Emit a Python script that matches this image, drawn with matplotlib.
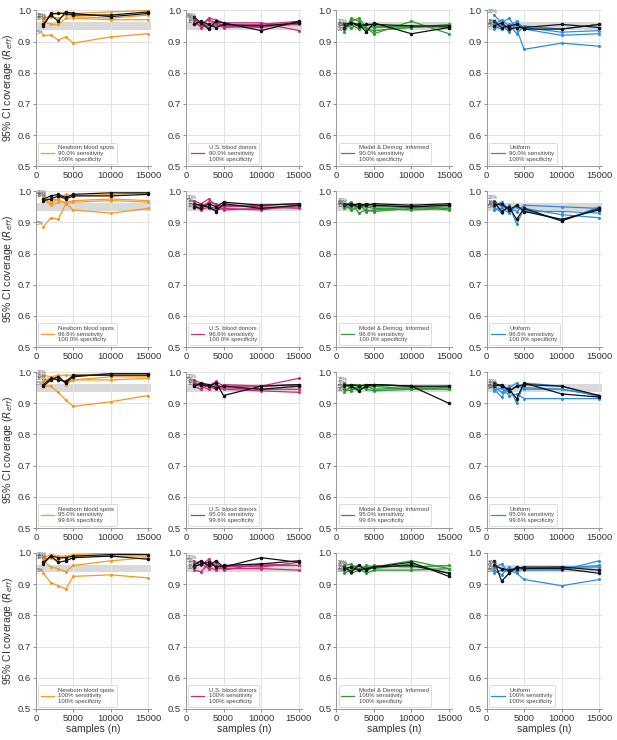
import numpy as np
import matplotlib
matplotlib.use('Agg')
import matplotlib.pyplot as plt

plt.rcParams['font.family'] = ['Liberation Sans', 'DejaVu Sans']

samples = [1000, 2000, 3000, 4000, 5000, 10000, 15000]
prev_labels = ['20%', '15%', '10%', '5%']

priors = ['Newborn blood spots', 'U.S. blood donors', 'Model & Demog. Informed', 'Uniform']
colors = ['#f39a21', '#c4307f', '#2f9a34', '#2f8ce0']
sens_labels = ['90.0% sensitivity', '96.6% sensitivity', '95.0% sensitivity', '100% sensitivity']
spec_labels = ['100% specificity', '100.0% specificity', '99.6% specificity', '100% specificity']

# each panel: 4 coloured series (prevalences above), then 2 black series
# row 1: 90.0% sens / 100% spec
r1_nbs = [[0.970, 0.985, 0.990, 0.995, 0.990, 0.995, 1.000],
          [0.975, 0.980, 0.975, 0.985, 0.980, 0.975, 0.985],
          [0.965, 0.955, 0.955, 0.975, 0.975, 0.970, 0.970],
          [0.920, 0.920, 0.905, 0.915, 0.895, 0.915, 0.925],
          [0.955, 0.985, 0.965, 0.995, 0.990, 0.980, 0.990],
          [0.950, 0.990, 0.990, 0.990, 0.985, 0.985, 0.995]]
r1_usbd = [[0.975, 0.955, 0.970, 0.960, 0.950, 0.955, 0.965],
           [0.960, 0.950, 0.975, 0.970, 0.960, 0.960, 0.935],
           [0.955, 0.965, 0.945, 0.955, 0.945, 0.950, 0.955],
           [0.970, 0.945, 0.955, 0.965, 0.950, 0.945, 0.960],
           [0.980, 0.960, 0.940, 0.965, 0.960, 0.935, 0.965],
           [0.955, 0.965, 0.955, 0.945, 0.955, 0.950, 0.960]]
r1_mdi = [[0.930, 0.975, 0.965, 0.940, 0.935, 0.945, 0.955],
          [0.945, 0.965, 0.975, 0.945, 0.925, 0.965, 0.925],
          [0.955, 0.945, 0.955, 0.940, 0.950, 0.945, 0.950],
          [0.940, 0.955, 0.940, 0.955, 0.945, 0.950, 0.945],
          [0.955, 0.960, 0.955, 0.930, 0.960, 0.925, 0.945],
          [0.945, 0.960, 0.950, 0.955, 0.955, 0.950, 0.950]]
r1_uni = [[0.985, 0.960, 0.975, 0.940, 0.875, 0.895, 0.885],
          [0.955, 0.970, 0.950, 0.965, 0.940, 0.920, 0.925],
          [0.950, 0.940, 0.955, 0.925, 0.950, 0.940, 0.955],
          [0.940, 0.955, 0.930, 0.960, 0.945, 0.930, 0.935],
          [0.965, 0.945, 0.950, 0.955, 0.940, 0.940, 0.955],
          [0.950, 0.960, 0.940, 0.945, 0.945, 0.955, 0.945]]

# row 2: 96.6% sens / 100.0% spec
r2_nbs = [[0.985, 0.970, 0.975, 0.990, 0.985, 0.990, 0.995],
          [0.975, 0.955, 0.965, 0.965, 0.970, 0.975, 0.970],
          [0.980, 0.960, 0.975, 0.960, 0.940, 0.930, 0.945],
          [0.885, 0.915, 0.910, 0.960, 0.965, 0.970, 0.965],
          [0.975, 0.985, 0.990, 0.980, 0.990, 0.995, 0.995],
          [0.970, 0.975, 0.985, 0.975, 0.985, 0.985, 0.990]]
r2_usbd = [[0.970, 0.960, 0.975, 0.955, 0.950, 0.955, 0.960],
           [0.955, 0.940, 0.950, 0.945, 0.955, 0.950, 0.945],
           [0.945, 0.960, 0.945, 0.940, 0.945, 0.940, 0.955],
           [0.960, 0.950, 0.965, 0.960, 0.940, 0.945, 0.950],
           [0.960, 0.955, 0.950, 0.935, 0.960, 0.945, 0.955],
           [0.950, 0.945, 0.960, 0.950, 0.965, 0.955, 0.960]]
r2_mdi = [[0.955, 0.965, 0.930, 0.940, 0.935, 0.945, 0.950],
          [0.945, 0.950, 0.960, 0.935, 0.940, 0.950, 0.955],
          [0.960, 0.940, 0.950, 0.950, 0.945, 0.940, 0.945],
          [0.950, 0.955, 0.945, 0.955, 0.950, 0.950, 0.940],
          [0.960, 0.955, 0.960, 0.955, 0.960, 0.955, 0.960],
          [0.955, 0.960, 0.950, 0.960, 0.955, 0.950, 0.955]]
r2_uni = [[0.970, 0.950, 0.945, 0.935, 0.955, 0.950, 0.945],
          [0.950, 0.930, 0.955, 0.895, 0.945, 0.925, 0.915],
          [0.955, 0.965, 0.940, 0.950, 0.940, 0.905, 0.950],
          [0.940, 0.945, 0.930, 0.955, 0.935, 0.935, 0.930],
          [0.965, 0.935, 0.950, 0.910, 0.945, 0.905, 0.945],
          [0.955, 0.960, 0.940, 0.955, 0.935, 0.910, 0.940]]

# row 3: 95.0% sens / 99.6% spec
r3_nbs = [[0.990, 0.985, 0.990, 0.990, 0.990, 0.995, 0.995],
          [0.975, 0.980, 0.985, 0.965, 0.975, 0.975, 0.980],
          [0.970, 0.975, 0.990, 0.960, 0.975, 0.985, 0.985],
          [0.955, 0.955, 0.935, 0.910, 0.890, 0.905, 0.925],
          [0.955, 0.975, 0.985, 0.965, 0.985, 0.995, 0.995],
          [0.960, 0.980, 0.975, 0.970, 0.990, 0.990, 0.990]]
r3_usbd = [[0.975, 0.965, 0.955, 0.970, 0.955, 0.955, 0.980],
           [0.960, 0.955, 0.945, 0.960, 0.950, 0.945, 0.945],
           [0.955, 0.945, 0.960, 0.950, 0.945, 0.940, 0.935],
           [0.965, 0.960, 0.955, 0.945, 0.960, 0.955, 0.960],
           [0.960, 0.960, 0.955, 0.965, 0.925, 0.955, 0.960],
           [0.955, 0.965, 0.960, 0.950, 0.955, 0.945, 0.955]]
r3_mdi = [[0.955, 0.960, 0.960, 0.955, 0.960, 0.955, 0.950],
          [0.965, 0.945, 0.950, 0.950, 0.955, 0.945, 0.950],
          [0.935, 0.955, 0.945, 0.955, 0.945, 0.950, 0.955],
          [0.945, 0.940, 0.955, 0.945, 0.940, 0.945, 0.945],
          [0.960, 0.955, 0.940, 0.955, 0.960, 0.955, 0.900],
          [0.955, 0.960, 0.955, 0.960, 0.960, 0.955, 0.955]]
r3_uni = [[0.955, 0.935, 0.950, 0.965, 0.945, 0.945, 0.925],
          [0.945, 0.920, 0.955, 0.900, 0.965, 0.955, 0.920],
          [0.960, 0.955, 0.935, 0.955, 0.950, 0.945, 0.925],
          [0.940, 0.950, 0.925, 0.930, 0.915, 0.915, 0.915],
          [0.965, 0.955, 0.945, 0.915, 0.965, 0.930, 0.920],
          [0.955, 0.960, 0.940, 0.955, 0.960, 0.955, 0.925]]

# row 4: 100% sens / 100% spec
r4_nbs = [[0.985, 0.995, 0.990, 0.990, 0.995, 1.000, 0.995],
          [0.980, 0.985, 0.975, 0.990, 0.990, 0.990, 0.990],
          [0.975, 0.955, 0.950, 0.940, 0.960, 0.975, 0.985],
          [0.935, 0.905, 0.895, 0.885, 0.925, 0.930, 0.920],
          [0.970, 0.990, 0.985, 0.985, 0.990, 0.995, 0.995],
          [0.965, 0.990, 0.970, 0.975, 0.985, 0.990, 0.980]]
r4_usbd = [[0.975, 0.960, 0.980, 0.955, 0.960, 0.955, 0.970],
           [0.955, 0.965, 0.950, 0.970, 0.945, 0.965, 0.960],
           [0.945, 0.940, 0.965, 0.960, 0.950, 0.950, 0.945],
           [0.965, 0.975, 0.955, 0.945, 0.955, 0.960, 0.960],
           [0.960, 0.975, 0.960, 0.975, 0.955, 0.985, 0.970],
           [0.955, 0.965, 0.970, 0.955, 0.960, 0.965, 0.975]]
r4_mdi = [[0.960, 0.965, 0.945, 0.960, 0.955, 0.975, 0.950],
          [0.945, 0.955, 0.960, 0.945, 0.960, 0.955, 0.960],
          [0.955, 0.935, 0.945, 0.955, 0.950, 0.965, 0.935],
          [0.935, 0.945, 0.950, 0.935, 0.945, 0.945, 0.950],
          [0.955, 0.940, 0.960, 0.945, 0.955, 0.970, 0.925],
          [0.950, 0.955, 0.945, 0.950, 0.955, 0.960, 0.935]]
r4_uni = [[0.955, 0.965, 0.935, 0.955, 0.945, 0.945, 0.975],
          [0.945, 0.930, 0.955, 0.940, 0.950, 0.955, 0.955],
          [0.960, 0.950, 0.945, 0.935, 0.915, 0.895, 0.915],
          [0.935, 0.945, 0.940, 0.955, 0.950, 0.950, 0.960],
          [0.975, 0.910, 0.935, 0.955, 0.950, 0.950, 0.935],
          [0.960, 0.950, 0.945, 0.950, 0.955, 0.955, 0.945]]

panels = [[r1_nbs, r1_usbd, r1_mdi, r1_uni],
          [r2_nbs, r2_usbd, r2_mdi, r2_uni],
          [r3_nbs, r3_usbd, r3_mdi, r3_uni],
          [r4_nbs, r4_usbd, r4_mdi, r4_uni]]

fig, axes = plt.subplots(4, 4, figsize=(6.17, 7.40), dpi=100)
fig.subplots_adjust(left=0.058, right=0.976, top=0.986, bottom=0.042, wspace=0.3, hspace=0.16)

for i in range(4):
    for j in range(4):
        ax = axes[i, j]
        data = panels[i][j]
        ax.set_facecolor('white')
        ax.grid(True, color='#e2e2e2', lw=0.7, zorder=0)
        ax.axhspan(0.9375, 0.9625, color='#d9d9d9', lw=0, zorder=1)
        for k in range(4):
            ax.plot(samples, data[k], color=colors[j], lw=0.9, marker='o', ms=1.2, zorder=3)
            ax.text(150, data[k][0] + 0.002, prev_labels[k], fontsize=3.5, color='#555555',
                    ha='left', va='bottom', zorder=5)
        for k in range(4, 6):
            ax.plot(samples, data[k], color='#111111', lw=0.9, marker='o', ms=1.5, zorder=4)
        h, = ax.plot([], [], color=colors[j], lw=0.9)
        leg = ax.legend([h], [priors[j] + '\n' + sens_labels[i] + '\n' + spec_labels[i]],
                        loc='lower left', fontsize=4.3, frameon=True, handlelength=2.2,
                        borderaxespad=0.4, labelcolor='#444444')
        leg.get_frame().set_edgecolor('#cccccc')
        leg.get_frame().set_linewidth(0.6)
        ax.set_xlim(0, 15400)
        ax.set_ylim(0.5, 1.0)
        ax.set_xticks([0, 5000, 10000, 15000])
        ax.set_yticks([0.5, 0.6, 0.7, 0.8, 0.9, 1.0])
        ax.tick_params(labelsize=6.8, length=2, width=0.6, color='#777777', labelcolor='#333333', pad=1.5)
        for s in ['top', 'right']:
            ax.spines[s].set_visible(False)
        for s in ['left', 'bottom']:
            ax.spines[s].set_color('#999999')
            ax.spines[s].set_linewidth(0.7)
        if j == 0:
            ax.set_ylabel('95% CI coverage ($R_{eff}$)', fontsize=7.5, color='#333333', labelpad=2)
        if i == 3:
            ax.set_xlabel('samples (n)', fontsize=7.5, color='#333333', labelpad=1)

fig.savefig('out.png', dpi=100, facecolor='white')
